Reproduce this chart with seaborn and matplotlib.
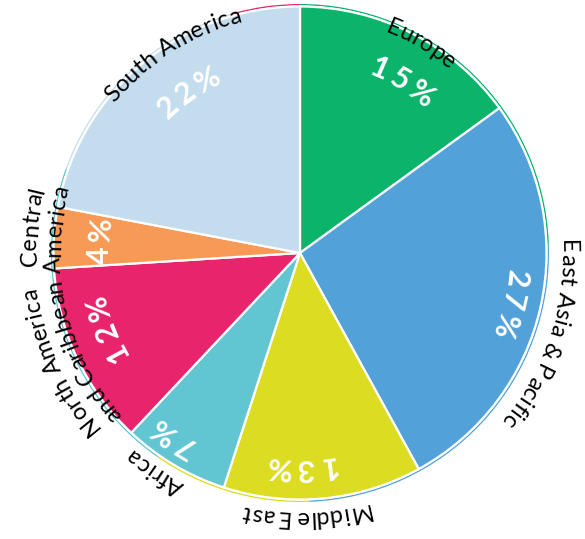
import numpy as np
import matplotlib
matplotlib.use("Agg")
import matplotlib.pyplot as plt
import seaborn as sns
from matplotlib.font_manager import FontProperties

# data
regions = ["Europe", "East Asia & Pacific", "Middle East", "Africa",
           "North America and Caribbean", "Central America", "South America"]
label_lines = [["Europe"], ["East Asia & Pacific"], ["Middle East"], ["Africa"],
               ["North America", "and Caribbean"], ["Central", "America"],
               ["South America"]]
shares = [15, 27, 13, 7, 12, 4, 22]
colors = ["#0bb36b", "#52a2d9", "#dcdc22", "#62c6d2", "#e8246c", "#f79a55", "#c4ddee"]

# thin outer ring
ring_shares = [24.4, 25.0, 10.3, 20.8, 15.0, 4.5]
ring_colors = ["#0bb36b", "#52a2d9", "#dcdc22", "#62c6d2", "#c4ddee", "#e8246c"]

# layout (pixels)
W, H = 585, 539
cx, cy, R = 300, 539 - 253, 245
label_r = [[245], [270], [267], [265], [274, 249], [272, 248], [247]]
label_shift = [-3, -6, -4, -3, -1, -2, -7]
pct_r = [202, 219, 217, 226, 210, 202, 198]
pct_shift = [-4, -1, -5, -4, -4, 0, -5]

sns.set_theme(style="white")
plt.rcParams["font.family"] = ["Lato", "DejaVu Sans"]

fig = plt.figure(figsize=(W / 100, H / 100), dpi=100)
ax = fig.add_axes([0, 0, 1, 1])

ax.pie(ring_shares, colors=ring_colors, startangle=90, counterclock=False,
       center=(cx, cy), radius=R + 4, wedgeprops=dict(width=1.4, linewidth=0))
ax.pie(shares, colors=colors, startangle=90, counterclock=False,
       center=(cx, cy), radius=R + 1.5,
       wedgeprops=dict(edgecolor="white", linewidth=1.6))
ax.set_xlim(0, W)
ax.set_ylim(0, H)
ax.set_aspect("equal")
ax.axis("off")

fig.canvas.draw()
renderer = fig.canvas.get_renderer()


def char_width(ch, fp):
    w1 = renderer.get_text_width_height_descent("|" + ch + "|", fp, ismath=False)[0]
    w0 = renderer.get_text_width_height_descent("||", fp, ismath=False)[0]
    return w1 - w0


def arc_text(text, mid_deg, r_center, fp, color, tracking=0.0, cap=0.0):
    r_base = r_center - cap / 2
    widths = [char_width(ch, fp) + tracking for ch in text]
    total = sum(widths) - tracking
    ang = np.deg2rad(mid_deg) + total / 2 / r_center
    for ch, w in zip(text, widths):
        a = ang - (w - tracking) / 2 / r_center
        x = cx + r_base * np.cos(a)
        y = cy + r_base * np.sin(a)
        ax.text(x, y, ch, fontproperties=fp, color=color, ha="center",
                va="baseline", rotation=np.rad2deg(a) - 90,
                rotation_mode="anchor")
        ang -= w / r_center


label_fp = FontProperties(family=["Lato", "DejaVu Sans"], size=17)
pct_fp = FontProperties(family=["Lato", "DejaVu Sans"], size=22, weight="bold")

start = 90.0
for i, s in enumerate(shares):
    span = s / sum(shares) * 360
    mid = start - span / 2
    start -= span
    for line, r in zip(label_lines[i], label_r[i]):
        arc_text(line, mid + label_shift[i], r, label_fp, "black",
                 tracking=0.6, cap=17)
    arc_text(f"{s}%", mid + pct_shift[i], pct_r[i], pct_fp, "white",
             tracking=5, cap=22)

fig.savefig("out.png", dpi=100)
